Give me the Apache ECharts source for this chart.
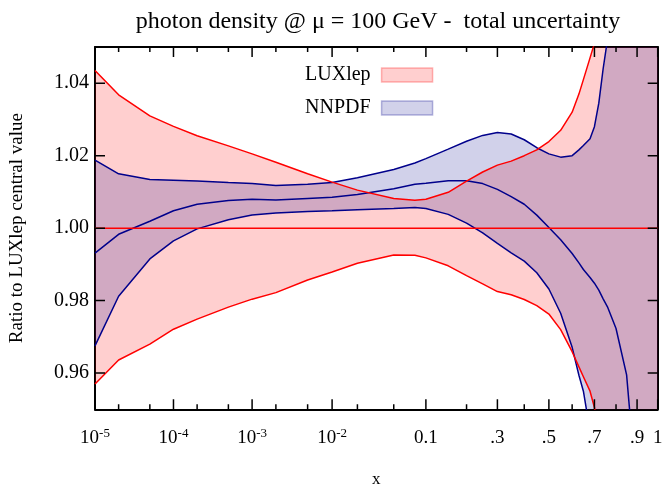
<!DOCTYPE html>
<html><head><meta charset="utf-8">
<script src="https://cdn.jsdelivr.net/npm/echarts@6/dist/echarts.min.js"></script>
<style>html,body{margin:0;padding:0;background:#fff}#c{width:662px;height:484px}</style>
</head><body><div id="c"></div>
<script>
// x sample points (momentum fraction)
const xValues = [1e-5, 2e-5, 5e-5, 1e-4, 2e-4, 5e-4, 1e-3, 2e-3, 5e-3, 1e-2, 2e-2, 5e-2, 0.08, 0.1, 0.15, 0.2, 0.25, 0.3, 0.35, 0.4, 0.45, 0.5, 0.55, 0.6, 0.63, 0.65, 0.68, 0.7, 0.72, 0.74, 0.76, 0.8, 0.85, 0.87, 0.9, 0.95, 1];
// LUXlep uncertainty band (ratio to LUXlep central)
const luxUpper = [1.0435, 1.0368, 1.0310, 1.0281, 1.0255, 1.0227, 1.0205, 1.0182, 1.0150, 1.0127, 1.0105, 1.0082, 1.0077, 1.0080, 1.0099, 1.0130, 1.0155, 1.0174, 1.0185, 1.0200, 1.0216, 1.0239, 1.0270, 1.0320, 1.0370, 1.0410, 1.0470, 1.0510, 1.058, 1.066, 1.075, 1.095, 1.125, 1.14, 1.17, 1.22, 1.3];
const luxLower = [0.9570, 0.9636, 0.9680, 0.9721, 0.9749, 0.9782, 0.9804, 0.9822, 0.9857, 0.9879, 0.9903, 0.9926, 0.9925, 0.9918, 0.9896, 0.9869, 0.9846, 0.9825, 0.9816, 0.9803, 0.9786, 0.9763, 0.9720, 0.9659, 0.9617, 0.9590, 0.9550, 0.9505, 0.943, 0.935, 0.927, 0.91, 0.88, 0.87, 0.85, 0.80, 0.70];
const luxCentralX = [1e-5, 1];
const luxCentral = [1.0, 1.0];
// NNPDF band
const nnUpper = [1.0188, 1.0150, 1.0134, 1.0132, 1.0130, 1.0126, 1.0123, 1.0118, 1.0121, 1.0126, 1.0139, 1.0162, 1.0180, 1.0192, 1.0218, 1.0240, 1.0256, 1.0264, 1.0260, 1.0244, 1.0222, 1.0205, 1.0196, 1.0200, 1.0216, 1.0228, 1.0247, 1.0280, 1.0345, 1.0440, 1.0520, 1.075, 1.11, 1.13, 1.16, 1.22, 1.3];
const nnCentral = [0.9931, 0.9983, 1.0019, 1.0048, 1.0066, 1.0076, 1.0080, 1.0078, 1.0082, 1.0085, 1.0093, 1.0109, 1.0121, 1.0124, 1.0131, 1.0131, 1.0123, 1.0107, 1.0087, 1.0066, 1.0036, 1.0002, 0.9968, 0.9930, 0.9904, 0.9886, 0.9864, 0.9848, 0.9829, 0.9805, 0.9783, 0.9723, 0.9595, 0.946, 0.92, 0.88, 0.80];
const nnLower = [0.9675, 0.9812, 0.9915, 0.9965, 0.9998, 1.0023, 1.0036, 1.0042, 1.0046, 1.0048, 1.0051, 1.0054, 1.0057, 1.0054, 1.0038, 1.0014, 0.9987, 0.9958, 0.9932, 0.9909, 0.9877, 0.9832, 0.9765, 0.9671, 0.9594, 0.9550, 0.944, 0.935, 0.925, 0.915, 0.905, 0.88, 0.84, 0.82, 0.79, 0.74, 0.70];
// axis ticks
const xMajorTicks = [1e-5, 1e-4, 1e-3, 1e-2, 0.1, 0.3, 0.5, 0.7, 0.9, 1];
const xMajorLabels = ['10^-5', '10^-4', '10^-3', '10^-2', '0.1', '.3', '.5', '.7', '.9', '1'];
const xMinorTicks = [2e-5, 5e-5, 2e-4, 5e-4, 2e-3, 5e-3, 2e-2, 5e-2, 0.2, 0.4, 0.6, 0.8];
const yTicks = [0.96, 0.98, 1.00, 1.02, 1.04];
const yMin = 0.95, yMax = 1.05;

const T = x => Math.log(x) + 5 * x;   // log-then-linear x transform
const xMin = T(1e-5), xMax = T(1);
const pts = (xs, ys) => xs.map((x, i) => [T(x), ys[i]]);

const FONT = 'Liberation Serif';
const LUX_FILL = 'rgba(255,0,0,0.19)', NN_FILL = 'rgba(0,0,139,0.18)';
const RED = '#ff0000', BLUE = '#00008b';
const GRID = { left: 95, right: 4.3, top: 47, bottom: 74.7 };
const W = 662, H = 484;
const plotW = W - GRID.left - GRID.right, plotH = H - GRID.top - GRID.bottom;
const pxToY = px => px / plotH * (yMax - yMin);
const pxToX = px => px / plotW * (xMax - xMin);

function labelFmt(v) {
  const i = xMajorTicks.findIndex(x => Math.abs(T(x) - v) < 1e-6);
  if (i < 0) return '';
  const s = xMajorLabels[i];
  if (s.indexOf('^') >= 0) {
    const p = s.split('^');
    return '{b|' + p[0] + '}{s|' + p[1] + '}';
  }
  return '{b|' + s + '}';
}

function xAxisDef(pos, labels) {
  return {
    type: 'value', position: pos, min: xMin, max: xMax,
    axisLine: { show: true, onZero: false, lineStyle: { color: '#000', width: 2 } },
    axisTick: { show: false },
    axisLabel: labels ? {
      show: true, customValues: xMajorTicks.map(T), margin: 18, formatter: labelFmt,
      rich: {
        b: { fontFamily: FONT, fontSize: 19, color: '#000', lineHeight: 22 },
        s: { fontFamily: FONT, fontSize: 13, color: '#000', lineHeight: 12, verticalAlign: 'top' }
      }
    } : { show: false },
    splitLine: { show: false },
    name: labels ? 'x' : '', nameLocation: 'middle', nameGap: 62,
    nameTextStyle: { fontFamily: FONT, fontSize: 17, color: '#000' }
  };
}
function yAxisDef(pos, labels) {
  return {
    type: 'value', position: pos, min: yMin, max: yMax,
    axisLine: { show: true, onZero: false, lineStyle: { color: '#000', width: 2 } },
    axisTick: { show: false },
    axisLabel: labels ? { show: true, customValues: yTicks, margin: 6, formatter: v => v.toFixed(2),
      fontFamily: FONT, fontSize: 20, color: '#000' } : { show: false },
    splitLine: { show: false },
    name: labels ? 'Ratio to LUXlep central value' : '', nameLocation: 'middle', nameGap: 68, nameRotate: 90,
    nameTextStyle: { fontFamily: FONT, fontSize: 19, color: '#000' }
  };
}

function band(name, upper, lower, fill) {
  return {
    name, type: 'custom', clip: true, silent: true, z: 2,
    itemStyle: { color: fill },
    data: [[T(0.1), 1]],
    renderItem: (params, api) => {
      const top = xValues.map((x, i) => api.coord([T(x), upper[i]]));
      const bot = xValues.map((x, i) => api.coord([T(x), lower[i]])).reverse();
      return { type: 'polygon', shape: { points: top.concat(bot) }, style: { fill } };
    }
  };
}
function line(ys, color, xs) {
  return {
    type: 'line', data: pts(xs || xValues, ys), showSymbol: false, symbol: 'none', clip: true, silent: true,
    lineStyle: { color, width: 1.5 }, z: 3
  };
}
// one short two-point line per inward tick mark
function seg(p1, p2) {
  return { type: 'line', data: [p1, p2], showSymbol: false, symbol: 'none', clip: true, silent: true,
    lineStyle: { color: '#000', width: 1.5 }, z: 4 };
}
const tickSeries = [];
[[xMajorTicks, 10], [xMinorTicks, 5]].forEach(([ticks, len]) => {
  const d = pxToY(len);
  ticks.forEach(x => {
    tickSeries.push(seg([T(x), yMin], [T(x), yMin + d]));
    tickSeries.push(seg([T(x), yMax], [T(x), yMax - d]));
  });
});
yTicks.forEach(y => {
  const d = pxToX(10);
  tickSeries.push(seg([xMin, y], [xMin + d, y]));
  tickSeries.push(seg([xMax, y], [xMax - d, y]));
});

const chart = echarts.init(document.getElementById('c'), null, { renderer: 'canvas' });
chart.setOption({
  animation: false,
  backgroundColor: '#fff',
  title: {
    text: 'photon density @ \u03bc = 100 GeV -  total uncertainty',
    left: 373, top: 5, textAlign: 'center',
    textStyle: { fontFamily: FONT, fontSize: 24, fontWeight: 'normal', color: '#000' }
  },
  legend: {
    orient: 'vertical', left: 305, top: 65, align: 'right',
    itemWidth: 51, itemHeight: 14, itemGap: 13, padding: 0,
    textStyle: { fontFamily: FONT, fontSize: 20, color: '#000', lineHeight: 20, padding: [0, 6, 0, 0] },
    data: [
      { name: 'LUXlep', icon: 'rect', itemStyle: { color: LUX_FILL, borderColor: 'rgba(255,0,0,0.28)', borderWidth: 1.5 } },
      { name: 'NNPDF', icon: 'rect', itemStyle: { color: NN_FILL, borderColor: 'rgba(0,0,139,0.28)', borderWidth: 1.5 } }
    ]
  },
  grid: Object.assign({ containLabel: false, outerBoundsMode: 'none' }, GRID),
  xAxis: [xAxisDef('bottom', true), xAxisDef('top', false)],
  yAxis: [yAxisDef('left', true), yAxisDef('right', false)],
  series: [
    band('LUXlep', luxUpper, luxLower, LUX_FILL),
    band('NNPDF', nnUpper, nnLower, NN_FILL),
    line(nnUpper, BLUE), line(nnCentral, BLUE), line(nnLower, BLUE),
    line(luxUpper, RED), line(luxLower, RED), line(luxCentral, RED, luxCentralX)
  ].concat(tickSeries)
});
</script></body></html>
